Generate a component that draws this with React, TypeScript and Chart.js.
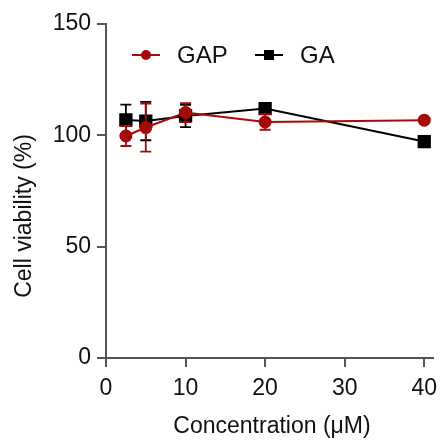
import React, { useEffect, useRef } from 'react';
import { Chart, registerables } from 'chart.js';

Chart.register(...registerables);

const concentrations = [2.5, 5, 10, 20, 40];
const gapMeans = [99.7, 103.5, 110.2, 106, 106.8];
const gapErrors = [4.5, 10.8, 4.3, 3.5, 0];
const gaMeans = [106.9, 106.4, 108.7, 112, 97.2];
const gaErrors = [6.9, 8.6, 5, 1, 0];
const xTicks = [0, 10, 20, 30, 40];
const yTicks = [0, 50, 100, 150];
const seriesNames = ['GAP', 'GA'];
const xTitle = 'Concentration (\u03BCM)';
const yTitle = 'Cell viability (%)';

const RED = '#a50a0a';
const BLACK = '#000000';
const AXIS = '#555555';
const FONT = '"Liberation Sans", Arial, sans-serif';

const errorBarPlugin = {
  id: 'errorBars',
  beforeDatasetDraw(chart: any, args: any) {
    const ds = chart.data.datasets[args.index];
    const errs: number[] = ds.errors || [];
    const meta = args.meta;
    const y = chart.scales.y;
    const ctx = chart.ctx;
    ctx.save();
    ctx.strokeStyle = ds.borderColor;
    ctx.lineWidth = 1.8;
    meta.data.forEach((pt: any, i: number) => {
      const e = errs[i];
      if (!e) return;
      const v = ds.data[i].y;
      const top = y.getPixelForValue(v + e);
      const bot = y.getPixelForValue(v - e);
      const cap = 5.5;
      ctx.beginPath();
      ctx.moveTo(pt.x, top);
      ctx.lineTo(pt.x, bot);
      ctx.moveTo(pt.x - cap, top);
      ctx.lineTo(pt.x + cap, top);
      ctx.moveTo(pt.x - cap, bot);
      ctx.lineTo(pt.x + cap, bot);
      ctx.stroke();
    });
    ctx.restore();
  },
};

const annotationPlugin = {
  id: 'annot',
  afterDraw(chart: any) {
    const ctx = chart.ctx;
    const area = chart.chartArea;
    ctx.save();
    // legend
    const ly = area.top + 31;
    const items = [
      { name: seriesNames[0], color: RED, style: 'circle', x: area.left + 40 },
      { name: seriesNames[1], color: BLACK, style: 'rect', x: area.left + 163 },
    ];
    ctx.font = `24px ${FONT}`;
    ctx.textBaseline = 'middle';
    ctx.textAlign = 'left';
    items.forEach((it) => {
      ctx.strokeStyle = it.color;
      ctx.fillStyle = it.color;
      ctx.lineWidth = 2;
      ctx.beginPath();
      ctx.moveTo(it.x - 14, ly);
      ctx.lineTo(it.x + 14, ly);
      ctx.stroke();
      ctx.beginPath();
      if (it.style === 'circle') {
        ctx.arc(it.x, ly, 5, 0, Math.PI * 2);
      } else {
        ctx.rect(it.x - 5, ly - 5, 10, 10);
      }
      ctx.fill();
      ctx.fillStyle = '#111';
      ctx.fillText(it.name, it.x + 31, ly + 1);
    });
    // axis titles
    ctx.fillStyle = '#111';
    ctx.font = `23px ${FONT}`;
    ctx.textAlign = 'center';
    ctx.textBaseline = 'middle';
    ctx.fillText(xTitle, 272, 427);
    ctx.translate(25, (area.top + area.bottom) / 2 + 25);
    ctx.rotate(-Math.PI / 2);
    ctx.fillText(yTitle, 0, 0);
    ctx.restore();
  },
};

export default function App() {
  const ref = useRef<HTMLCanvasElement>(null);
  useEffect(() => {
    document.body.style.margin = '0';
    const canvas = ref.current!;
    const chart = new Chart(canvas, {
      type: 'line',
      data: {
        datasets: [
          {
            label: seriesNames[0],
            data: concentrations.map((c, i) => ({ x: c, y: gapMeans[i] })),
            errors: gapErrors,
            borderColor: RED,
            backgroundColor: RED,
            pointBackgroundColor: RED,
            pointBorderColor: RED,
            pointStyle: 'circle',
            pointRadius: 5.5,
            borderWidth: 2,
            tension: 0,
          } as any,
          {
            label: seriesNames[1],
            data: concentrations.map((c, i) => ({ x: c, y: gaMeans[i] })),
            errors: gaErrors,
            borderColor: BLACK,
            backgroundColor: BLACK,
            pointBackgroundColor: BLACK,
            pointBorderColor: BLACK,
            pointStyle: 'rect',
            pointRadius: 8,
            borderWidth: 2,
            tension: 0,
          } as any,
        ],
      },
      options: {
        animation: false,
        responsive: false,
        devicePixelRatio: 1,
        layout: { padding: { top: 24, right: 8, left: 0, bottom: 0 } },
        plugins: { legend: { display: false }, tooltip: { enabled: false } },
        scales: {
          x: {
            type: 'linear',
            min: 0,
            max: 41.1,
            afterFit: (s: any) => { s.height = 82; s.paddingLeft = 0; s.paddingRight = 0; },
            afterBuildTicks: (s: any) => { s.ticks = xTicks.map((v) => ({ value: v })); },
            border: { color: AXIS, width: 2 },
            grid: { drawOnChartArea: false, tickLength: 9, color: AXIS, lineWidth: 2 },
            ticks: { color: '#111', font: { size: 23, family: FONT }, padding: 8, maxRotation: 0 },
          },
          y: {
            type: 'linear',
            min: 0,
            max: 150,
            afterFit: (s: any) => { s.width = 106; s.paddingTop = 0; s.paddingBottom = 0; },
            afterBuildTicks: (s: any) => { s.ticks = yTicks.map((v) => ({ value: v })); },
            border: { color: AXIS, width: 2 },
            grid: { drawOnChartArea: false, tickLength: 9, color: AXIS, lineWidth: 2 },
            ticks: { color: '#111', font: { size: 23, family: FONT }, padding: 6 },
          },
        },
      } as any,
      plugins: [errorBarPlugin, annotationPlugin],
    });
    return () => chart.destroy();
  }, []);
  return (
    <div style={{ width: 443, height: 440, background: '#fff' }}>
      <canvas ref={ref} width={443} height={440} />
    </div>
  );
}
